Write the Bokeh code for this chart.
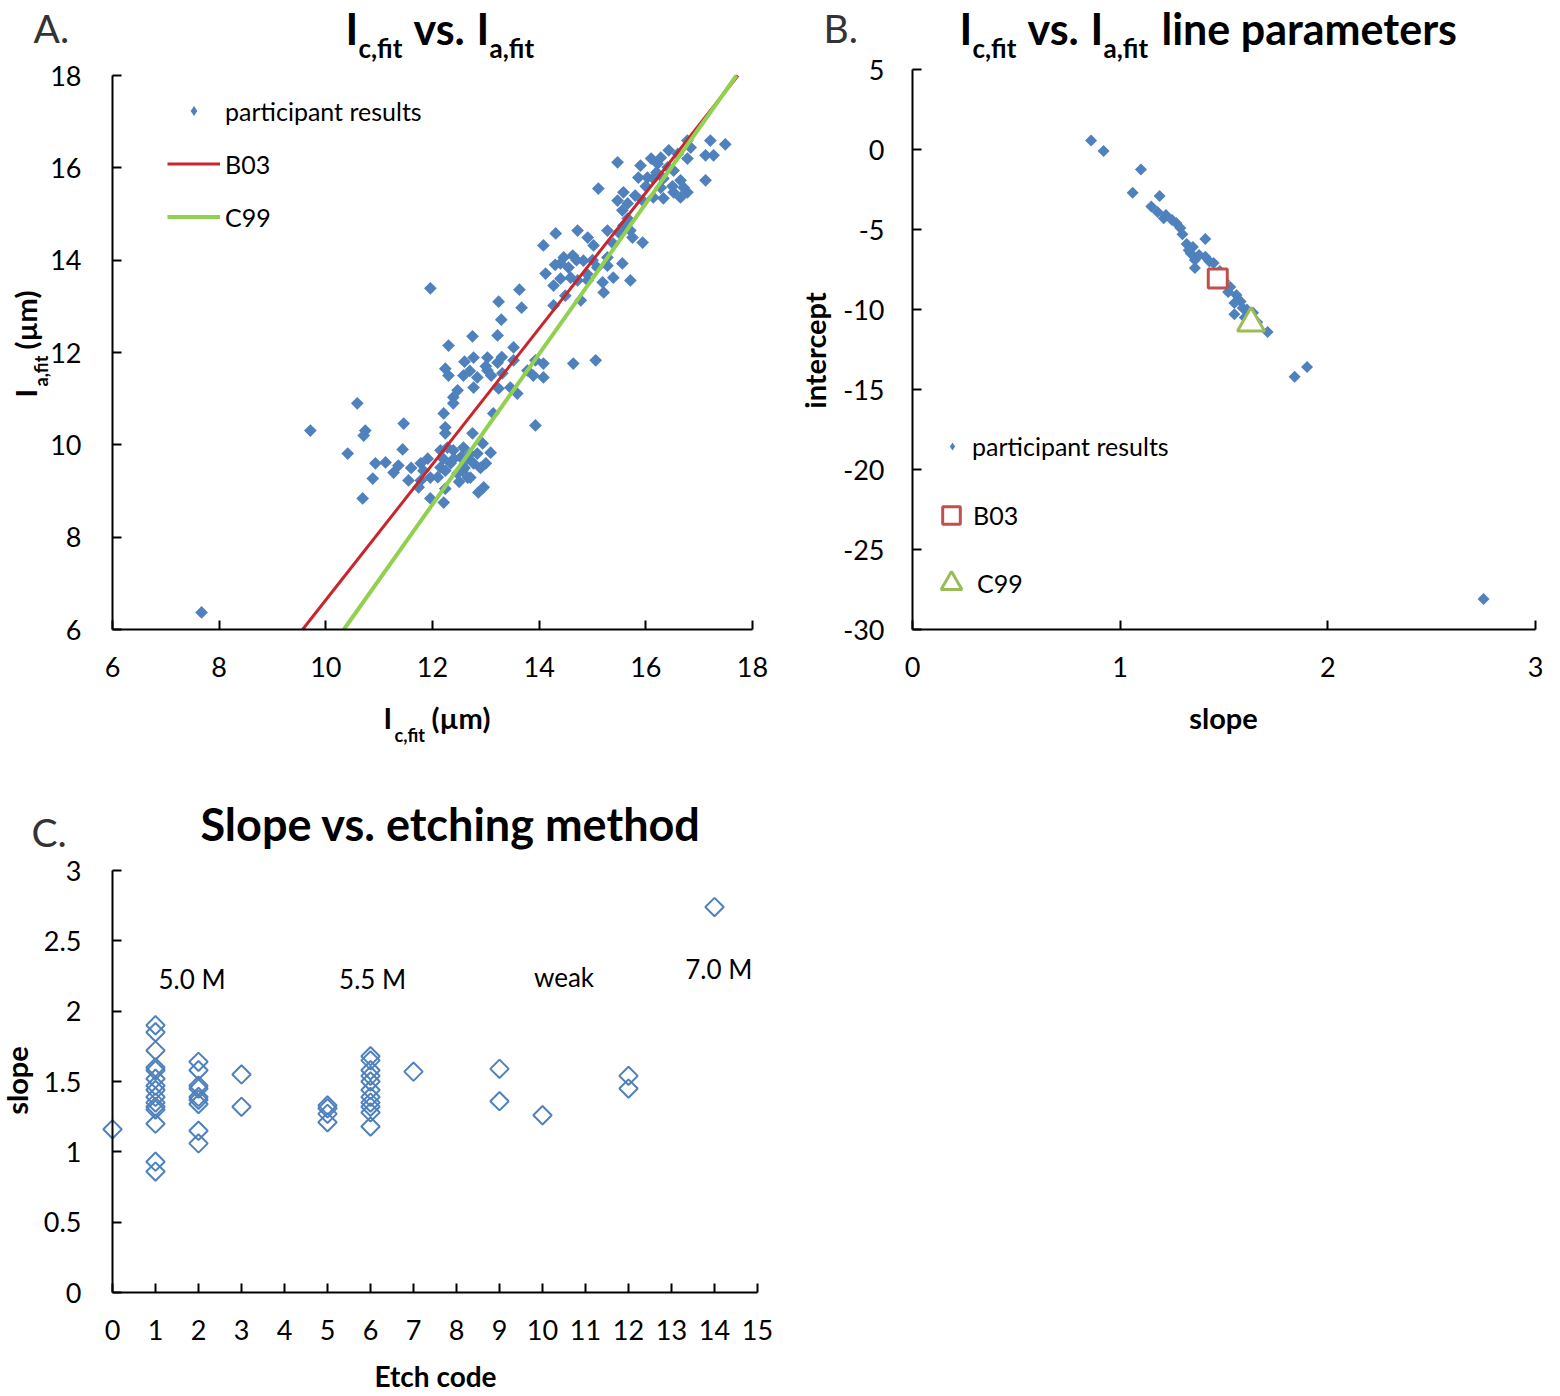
import numpy as np
from bokeh.plotting import figure
from bokeh.models import Range1d, Label, Legend, LegendItem
from bokeh.layouts import column, row
from bokeh.embed import file_html
from bokeh.resources import INLINE

FONT = "Lato"
BLUE = "#4F81BD"
RED = "#C8262C"
GREEN = "#92D050"
SQ_RED = "#C0504D"
TRI_GREEN = "#9BBB59"
DARK = "#333333"

# ---------------- Panel A data: Ic,fit vs Ia,fit ----------------
ic_fit = [17.21, 17.49, 17.27, 17.12, 16.78, 16.84, 16.78, 16.43, 16.28, 16.22,
          16.41, 16.52, 15.90, 15.47, 15.86, 16.03, 16.14, 16.33, 16.65, 17.12,
          16.71, 15.11, 16.28, 16.52, 16.78, 16.65, 16.14, 16.33, 15.94, 15.58,
          15.47, 15.66, 15.56, 15.66, 15.58, 15.71, 15.49, 15.28, 15.75, 15.94,
          15.39, 15.28, 14.91, 14.72, 15.02, 14.31, 14.08, 14.46, 14.63, 14.83,
          14.40, 14.55, 15.09, 15.56, 15.28, 15.39, 15.71, 14.12, 14.59, 14.72,
          14.91, 15.19, 14.27, 15.21, 14.49, 14.78, 14.27, 11.96, 13.63, 13.24,
          13.67, 13.29, 12.75, 13.22, 12.30, 13.52, 12.77, 13.03, 13.22, 13.52,
          13.93, 14.08, 14.64, 15.06, 12.24, 12.58, 12.84, 13.03, 13.31, 13.78,
          13.89, 14.08, 12.30, 12.77, 13.24, 13.46, 13.59, 12.47, 12.39, 12.39,
          12.21, 13.14, 12.24, 12.24, 12.75, 13.93, 11.46, 10.74, 10.59, 9.71,
          10.71, 11.44, 10.41, 10.93, 11.12, 11.36, 11.27, 10.88, 10.69, 11.55,
          11.78, 11.91, 12.15, 12.28, 12.39, 12.58, 12.53, 12.66, 12.77, 12.34,
          12.15, 11.83, 11.96, 11.78, 11.74, 12.24, 12.47, 12.66, 12.56, 12.84,
          12.94, 13.09, 12.96, 12.86, 12.24, 11.96, 12.21, 12.71, 7.67,
          16.00, 16.20, 16.50, 15.80, 16.60, 16.10, 14.30, 14.70, 14.90, 14.40,
          15.00, 13.00, 13.10, 12.70, 13.30, 12.60, 12.40, 12.60, 12.20, 12.90,
          12.50, 12.10, 12.70, 13.00, 11.60]
ia_fit = [16.59, 16.51, 16.27, 16.27, 16.59, 16.44, 16.20, 16.38, 16.22, 16.09,
          16.01, 15.94, 16.05, 16.12, 15.79, 15.79, 15.77, 15.77, 15.73, 15.73,
          15.57, 15.55, 15.57, 15.47, 15.47, 15.36, 15.36, 15.34, 15.29, 15.47,
          15.29, 15.23, 15.08, 14.90, 14.75, 14.64, 14.60, 14.64, 14.49, 14.38,
          14.36, 14.06, 14.49, 14.64, 14.32, 14.58, 14.32, 14.06, 14.10, 13.99,
          13.93, 13.84, 13.84, 13.93, 13.88, 13.62, 13.56, 13.71, 13.62, 13.56,
          13.56, 13.52, 13.45, 13.30, 13.23, 13.13, 13.02, 13.39, 13.36, 13.10,
          12.97, 12.71, 12.35, 12.37, 12.15, 12.11, 11.89, 11.89, 11.78, 11.83,
          11.83, 11.76, 11.76, 11.83, 11.65, 11.50, 11.46, 11.61, 11.55, 11.61,
          11.50, 11.46, 11.50, 11.24, 11.22, 11.24, 11.11, 11.18, 11.03, 10.90,
          10.68, 10.68, 10.38, 10.25, 10.25, 10.42, 10.46, 10.31, 10.90, 10.31,
          10.20, 9.90, 9.81, 9.60, 9.62, 9.55, 9.40, 9.27, 8.84, 9.23,
          9.60, 9.70, 9.88, 9.94, 9.88, 9.94, 9.73, 9.70, 9.60, 9.60,
          9.51, 9.44, 9.29, 9.23, 9.08, 9.44, 9.38, 9.29, 9.44, 9.81,
          10.03, 9.83, 9.08, 8.97, 9.05, 8.84, 8.75, 9.29, 6.37,
          15.60, 15.90, 15.60, 15.40, 16.30, 16.20, 13.90, 14.00, 13.70, 13.60,
          14.00, 11.70, 11.50, 11.60, 11.90, 11.80, 9.70, 9.50, 9.70, 9.50,
          9.20, 9.30, 9.80, 9.60, 9.50]

# Reference lines (slope, intercept)
b03_slope, b03_intercept = 1.47, -8.06
c99_slope, c99_intercept = 1.63, -10.85

# ---------------- Panel B data: line parameters ----------------
slopes_b = [0.86, 0.92, 1.10, 1.06, 1.19, 1.15, 1.18, 1.21, 1.22, 1.25,
            1.27, 1.29, 1.30, 1.41, 1.32, 1.33, 1.35, 1.34, 1.36, 1.38,
            1.41, 1.43, 1.45, 1.36, 1.48, 1.50, 1.52, 1.53, 1.56, 1.55,
            1.58, 1.59, 1.55, 1.61, 1.64, 1.60, 1.66, 1.71, 1.90, 1.84, 2.75]
intercepts_b = [0.56, -0.10, -1.25, -2.70, -2.90, -3.56, -3.90, -4.30, -4.10, -4.40,
                -4.60, -4.90, -5.30, -5.60, -5.90, -6.30, -6.10, -6.50, -6.90, -6.60,
                -6.70, -7.00, -7.10, -7.40, -7.60, -8.20, -8.90, -8.60, -9.10, -9.60,
                -9.50, -9.90, -10.30, -10.00, -10.20, -10.50, -10.80, -11.40, -13.60, -14.20, -28.10]

# ---------------- Panel C data: slope vs etch code ----------------
etch_code = ([0] + [1] * 15 + [2] * 9 + [3] * 2 + [5] * 4 + [6] * 11 + [7] + [9] * 2
             + [10] + [12] * 2 + [14])
slope_c = ([1.16]
           + [1.90, 1.85, 1.72, 1.60, 1.58, 1.52, 1.47, 1.44, 1.39, 1.35, 1.32, 1.30, 1.20, 0.93, 0.86]
           + [1.64, 1.58, 1.47, 1.45, 1.39, 1.37, 1.34, 1.15, 1.06]
           + [1.55, 1.32]
           + [1.33, 1.31, 1.27, 1.21]
           + [1.68, 1.65, 1.58, 1.54, 1.50, 1.44, 1.39, 1.35, 1.32, 1.28, 1.18]
           + [1.57]
           + [1.59, 1.36]
           + [1.26]
           + [1.54, 1.45]
           + [2.74])
group_labels = ["5.0 M", "5.5 M", "weak", "7.0 M"]
group_x = [1.85, 6.05, 10.5, 14.1]
group_y = [2.23, 2.23, 2.24, 2.30]


def lin_range(p0, v0, p1, v1, size):
    """Range covering local pixels 0..size, given two pixel->value anchors."""
    k = (v1 - v0) / (p1 - p0)
    a = v0 + (0 - p0) * k
    b = v0 + (size - p0) * k
    return (min(a, b), max(a, b))


class Panel:
    def __init__(self, ox, oy, w, h, xanch, yanch, xbounds, ybounds):
        self.ox, self.oy, self.w, self.h = ox, oy, w, h
        xr = lin_range(xanch[0] - ox, xanch[1], xanch[2] - ox, xanch[3], w)
        yr = lin_range(yanch[0] - oy, yanch[1], yanch[2] - oy, yanch[3], h)
        p = figure(width=w, height=h, x_range=Range1d(*xr), y_range=Range1d(*yr),
                   output_backend="svg", toolbar_location=None, title=None,
                   min_border=0, min_border_left=0, min_border_right=0,
                   min_border_top=0, min_border_bottom=0)
        p.xgrid.visible = False
        p.ygrid.visible = False
        p.outline_line_color = None
        p.background_fill_color = "white"
        p.border_fill_color = "white"
        p.xaxis.fixed_location = ybounds[0]
        p.xaxis.bounds = xbounds
        p.yaxis.fixed_location = xbounds[0]
        p.yaxis.bounds = ybounds
        for ax in (p.xaxis[0], p.yaxis[0]):
            ax.axis_line_width = 2
            ax.axis_line_color = "black"
            ax.major_tick_line_width = 2
            ax.major_tick_line_color = "black"
            ax.major_tick_in = 9
            ax.major_tick_out = 0
            ax.minor_tick_line_color = None
            ax.major_label_text_font = FONT
            ax.major_label_text_font_size = "27px"
            ax.major_label_text_color = "black"
        p.xaxis.major_label_standoff = 27
        p.yaxis.major_label_standoff = 31
        self.p = p

    def put(self, text, px, py, size, bold=False, angle=0, align="left", color="black"):
        # (px, py): start (or centre) of the text baseline in page pixels
        half_cap = 0.36 * size
        if angle == 0:
            sx, sy = px - self.ox, (self.oy + self.h) - (py - half_cap)
        else:
            sx, sy = (px - half_cap) - self.ox, (self.oy + self.h) - py
        self.p.add_layout(Label(x=sx, y=sy, x_units="screen", y_units="screen",
                                text=text, text_font=FONT, text_font_size=f"{size}px",
                                text_font_style="bold" if bold else "normal",
                                text_align=align, text_baseline="middle",
                                angle=angle, angle_units="deg", text_color=color))

    def leg(self, label, renderers, cx, cy, gw, gh, text_x, size=25):
        x0 = cx - gw / 2
        y1 = cy - gh / 2
        L = Legend(items=[LegendItem(label=label, renderers=renderers)],
                   location=(x0 - self.ox, (self.oy + self.h) - (y1 + gh)),
                   glyph_width=gw, glyph_height=gh, label_height=gh,
                   label_standoff=int(max(0, text_x - (x0 + gw))),
                   padding=0, margin=0, spacing=0,
                   border_line_color=None, background_fill_alpha=0,
                   label_text_font=FONT, label_text_font_size=f"{size}px",
                   label_text_color="black")
        self.p.add_layout(L)


# ================= Panel A =================
A = Panel(0, 0, 780, 780, (112, 6, 752, 18), (629, 6, 75, 18), (6, 18), (6, 18))
pA = A.p
pA.xaxis.ticker = [6, 8, 10, 12, 14, 16, 18]
pA.yaxis.ticker = [6, 8, 10, 12, 14, 16, 18]

pA.scatter(ic_fit, ia_fit, marker="square", angle=np.pi / 4, size=9,
           fill_color=BLUE, line_color=None)
proxyA = pA.scatter(ic_fit[:1], ia_fit[:1], marker="diamond", size=10,
                    fill_color=BLUE, line_color=None, visible=False)
ylim = [6, 18]
rB = pA.line([(v - b03_intercept) / b03_slope for v in ylim], ylim, line_color=RED, line_width=3)
rC = pA.line([(v - c99_intercept) / c99_slope for v in ylim], ylim, line_color=GREEN, line_width=4)

A.leg("participant results", [proxyA], 193.5, 113, 53, 25, 225)
A.leg("B03", [rB], 193.5, 166, 53, 25, 225)
A.leg("C99", [rC], 193.5, 219, 53, 25, 225)

A.put("A.", 33, 42, 39, color=DARK)
A.put("I", 345, 43, 43, bold=True)
A.put("c,fit", 358, 57, 26, bold=True)
A.put("vs.", 413, 43, 43, bold=True)
A.put("I", 476, 43, 43, bold=True)
A.put("a,fit", 489, 57, 26, bold=True)
# x label
A.put("I", 383, 727, 29, bold=True)
A.put("c,fit", 394, 741, 18, bold=True)
A.put("(µm)", 431, 727, 29, bold=True)
# y label (rotated)
A.put("I", 35, 397, 29, bold=True, angle=90)
A.put("a,fit", 47, 386, 18, bold=True, angle=90)
A.put("(µm)", 35, 349, 29, bold=True, angle=90)

# ================= Panel B =================
B = Panel(780, 0, 780, 780, (912, 0, 1535, 3), (629, -30, 69, 5), (0, 3), (-30, 5))
pB = B.p
pB.xaxis.ticker = [0, 1, 2, 3]
yt = [-30, -25, -20, -15, -10, -5, 0, 5]
pB.yaxis.ticker = yt
pB.yaxis.major_label_overrides = {v: str(v) for v in yt}
pB.yaxis.major_label_standoff = 28

pB.scatter(slopes_b, intercepts_b, marker="square", angle=np.pi / 4, size=8.5,
           fill_color=BLUE, line_color=None)
proxyB = pB.scatter(slopes_b[:1], intercepts_b[:1], marker="diamond", size=8,
                    fill_color=BLUE, line_color=None, visible=False)
rSq = pB.scatter([b03_slope], [b03_intercept], marker="square", size=19,
                 fill_color="white", line_color=SQ_RED, line_width=3)
rTr = pB.scatter([c99_slope], [c99_intercept], marker="triangle", size=27,
                 fill_color="white", line_color=TRI_GREEN, line_width=3)

B.leg("participant results", [proxyB], 952, 446, 20, 32, 972)
B.leg("B03", [rSq], 951, 515, 44, 44, 972)
B.leg("C99", [rTr], 951, 583, 52, 52, 972)

B.put("B.", 823, 42, 39, color=DARK)
B.put("I", 959, 43, 43, bold=True)
B.put("c,fit", 972, 57, 26, bold=True)
B.put("vs.", 1027, 43, 43, bold=True)
B.put("I", 1090, 43, 43, bold=True)
B.put("a,fit", 1103, 57, 26, bold=True)
B.put("line parameters", 1161, 43, 43, bold=True)
B.put("slope", 1223, 727, 29, bold=True, align="center")
B.put("intercept", 824, 350, 29, bold=True, angle=90, align="center")

# ================= Panel C =================
C = Panel(0, 780, 780, 616, (112, 0, 757, 15), (1292, 0, 870, 3), (0, 15), (0, 3))
pC = C.p
pC.xaxis.ticker = list(range(16))
yc = [0, 0.5, 1, 1.5, 2, 2.5, 3]
pC.yaxis.ticker = yc
pC.yaxis.major_label_overrides = {v: str(v) for v in yc}

pC.scatter(etch_code, slope_c, marker="square", angle=np.pi / 4, size=13,
           fill_color=None, line_color=BLUE, line_width=2)
for t, gx, gy in zip(group_labels, group_x, group_y):
    pC.add_layout(Label(x=gx, y=gy, text=t, text_font=FONT, text_font_size="26px",
                        text_align="center", text_baseline="middle", text_color="black"))

C.put("C.", 31, 846, 39, color=DARK)
C.put("Slope vs. etching method", 200, 840, 45, bold=True)
C.put("Etch code", 435, 1386, 28, bold=True, align="center")
C.put("slope", 26, 1080, 29, bold=True, angle=90, align="center")

layout = column(row(pA, pB), pC)
open("out.html", "w").write(file_html(layout, INLINE))
